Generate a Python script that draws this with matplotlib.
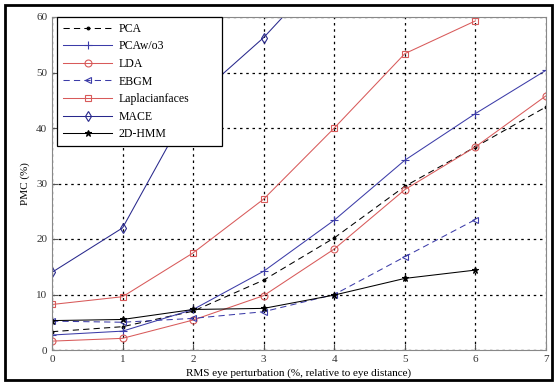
import matplotlib
matplotlib.use("Agg")
import matplotlib.pyplot as plt
from matplotlib.patches import Rectangle

x_vals = [0, 1, 2, 3, 4, 5, 6, 7]
pca = [3.3, 4.2, 7.0, 12.6, 20.2, 29.5, 36.6, 43.8]
pca_wo3 = [2.7, 3.4, 7.3, 14.2, 23.4, 34.2, 42.6, 50.4]
lda = [1.6, 2.1, 5.4, 9.8, 18.2, 28.9, 36.6, 45.8]
ebgm = [5.2, 5.0, 5.7, 6.9, 10.0, 16.8, 23.5]
laplacian = [8.2, 9.6, 17.5, 27.2, 40.0, 53.4, 59.3]
mace = [14.0, 22.0, 45.0, 56.3, 70.0]
hmm2d = [5.3, 5.5, 7.3, 7.5, 9.9, 12.9, 14.4]

labels = ["PCA", "PCAw/o3", "LDA", "EBGM", "Laplacianfaces", "MACE", "2D-HMM"]
xticks = [0, 1, 2, 3, 4, 5, 6, 7]
yticks = [0, 10, 20, 30, 40, 50, 60]

plt.rcParams['font.family'] = ['Liberation Serif', 'DejaVu Serif']

W, H = 557, 383
fig = plt.figure(figsize=(W / 100, H / 100), dpi=100)
ax = fig.add_axes([52 / W, 1 - 350 / H, (546 - 52) / W, (350 - 17) / H])

blue = '#3c3ca8'
red = '#d85a5a'
navy = '#28288c'

series = [
    (pca, dict(color='black', ls=(0, (6, 4)), marker='.', ms=4)),
    (pca_wo3, dict(color=blue, ls='-', marker='+', ms=6)),
    (lda, dict(color=red, ls='-', marker='o', ms=5, mfc='none')),
    (ebgm, dict(color=blue, ls=(0, (6, 4)), marker='<', ms=5, mfc='none')),
    (laplacian, dict(color=red, ls='-', marker='s', ms=5, mfc='none')),
    (mace, dict(color=navy, ls='-', marker='d', ms=5, mfc='none')),
    (hmm2d, dict(color='black', ls='-', marker='*', ms=5)),
]
for (vals, kw), lab in zip(series, labels):
    ax.plot(x_vals[:len(vals)], vals, lw=0.75, label=lab, mew=0.8, clip_on=True, **kw)

ax.set_xlim(0, 7)
ax.set_ylim(0, 60)
ax.set_xticks(xticks)
ax.set_yticks(yticks)
ax.grid(True, color='black', ls=(0, (2, 3)), lw=0.9)
ax.tick_params(direction='in', length=4, labelsize=8, colors='#555555', labelcolor='#333333')
for s in ax.spines.values():
    s.set_color('#888888')
    s.set_linewidth(0.8)

ax.set_xlabel("RMS eye perturbation (%, relative to eye distance)", fontsize=8, labelpad=3)
ax.set_ylabel("PMC (%)", fontsize=8, labelpad=4)

leg = ax.legend(loc='upper left', bbox_to_anchor=(5 / 494, 0.0, 165 / 494, 1.0), mode='expand',
                fontsize=8.5, handlelength=4.2, frameon=True, fancybox=False, edgecolor='black',
                framealpha=1, borderaxespad=0, labelspacing=0.47, borderpad=0.5,
                handletextpad=0.5)
leg.get_frame().set_linewidth(0.9)

fig.patches.append(Rectangle((5 / W, 3 / H), (552 - 5) / W, (378 - 3) / H,
                             transform=fig.transFigure, fill=False,
                             edgecolor='black', lw=2))

fig.savefig("out.png", dpi=100)
